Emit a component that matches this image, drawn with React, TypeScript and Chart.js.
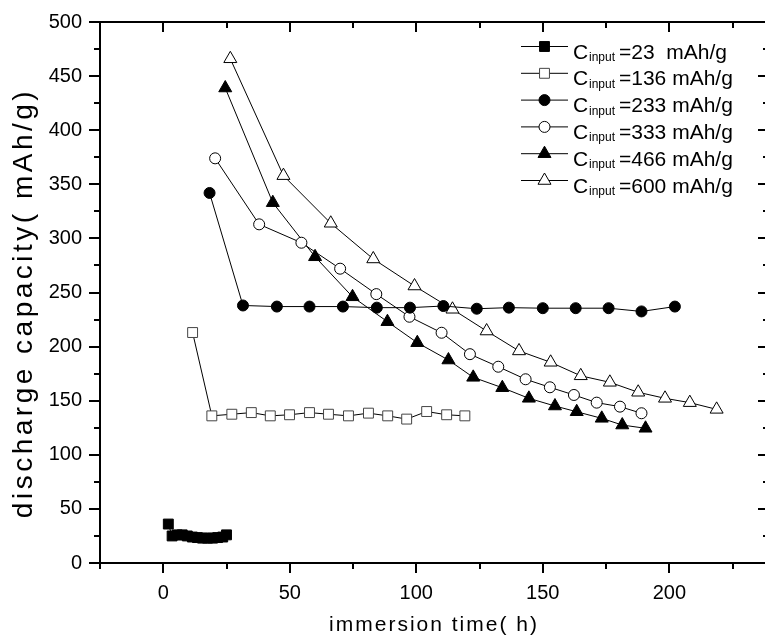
import React, { useEffect, useRef } from 'react';
import { Chart, registerables } from 'chart.js';

Chart.register(...registerables);

// ---- data ----
const s23X = [2, 3.5, 5.5, 7.5, 9.5, 11.5, 13.5, 15.5, 17.5, 19.5, 21.5, 23.5, 25];
const s23Y = [36, 25, 26, 26, 25, 24, 23.5, 23, 23, 23, 23.5, 24, 26];

const s136X = [11.6, 19.2, 27.1, 34.8, 42.3, 49.9, 57.8, 65.3, 73.2, 81.1, 88.7, 96.2, 104.1, 112, 119.2];
const s136Y = [213, 136, 137.5, 139, 136, 137, 139, 137.5, 136, 138.5, 136, 133, 140, 137, 136];

const s233X = [18.3, 31.5, 44.9, 57.8, 71, 84.4, 97.5, 110.7, 123.9, 136.6, 150, 163, 176, 189, 202.2];
const s233Y = [342, 238, 237, 237, 237, 236, 236, 237.5, 235, 236, 235.5, 235.5, 235.5, 232.5, 237];

const s333X = [20.5, 37.9, 54.6, 69.9, 84.2, 97.3, 110, 121.2, 132.4, 143.2, 152.8, 162.3, 171.3, 180.5, 189];
const s333Y = [374, 313, 296, 272, 248.5, 227.6, 212.8, 193, 181.4, 169.8, 162.4, 155.3, 148.2, 144.5, 138.4];

const s466X = [24.5, 43.3, 60, 74.8, 88.6, 100.4, 112.7, 122.5, 134, 144.5, 154.8, 163.4, 173.3, 181.4, 190.6];
const s466Y = [439, 333, 283, 246, 223, 203.6, 187.6, 171.6, 162, 152.2, 145.1, 139.8, 133.7, 127.5, 124.5];

const s600X = [26.5, 47.5, 66.2, 83, 99.3, 114.3, 127.8, 140.6, 153.1, 165, 176.5, 187.7, 198.3, 208.1, 218.7];
const s600Y = [466, 358, 314, 281, 256, 234.5, 214.4, 196, 185.5, 173, 167, 157.8, 152.2, 148.2, 142];

const seriesValues = ['23  mAh/g', '136 mAh/g', '233 mAh/g', '333 mAh/g', '466 mAh/g', '600 mAh/g'];

const xLabelTicks = [0, 50, 100, 150, 200];
const xTickMarks = [-25, 0, 25, 50, 75, 100, 125, 150, 175, 200, 225];
const yTickMarks = [0, 25, 50, 75, 100, 125, 150, 175, 200, 225, 250, 275, 300, 325, 350, 375, 400, 425, 450, 475, 500];

const X_MIN = -25;
const X_MAX = 239;
const Y_MIN = 0;
const Y_MAX = 500;

const xTitle = 'immersion time( h)';
const yTitle = 'discharge capacity( mAh/g)';

const FONT = '"Liberation Sans", Arial, Helvetica, sans-serif';

const zip = (xs: number[], ys: number[]) => xs.map((x, i) => ({ x, y: ys[i] }));

type Style = { pointStyle: string; fill: string; stroke: string; radius: number };
const styles: Style[] = [
  { pointStyle: 'rect', fill: '#000', stroke: '#000', radius: 7 },
  { pointStyle: 'rect', fill: '#fff', stroke: '#444', radius: 7 },
  { pointStyle: 'circle', fill: '#000', stroke: '#000', radius: 5.5 },
  { pointStyle: 'circle', fill: '#fff', stroke: '#000', radius: 5.5 },
  { pointStyle: 'triangle', fill: '#000', stroke: '#000', radius: 7.5 },
  { pointStyle: 'triangle', fill: '#fff', stroke: '#000', radius: 7.5 },
];

function drawMarker(ctx: CanvasRenderingContext2D, st: Style, x: number, y: number) {
  ctx.beginPath();
  if (st.pointStyle === 'rect') {
    const s = st.radius * Math.SQRT1_2;
    ctx.rect(x - s, y - s, 2 * s, 2 * s);
  } else if (st.pointStyle === 'circle') {
    ctx.arc(x, y, st.radius, 0, Math.PI * 2);
  } else {
    const r = st.radius;
    let a = 0;
    ctx.moveTo(x + Math.sin(a) * r, y - Math.cos(a) * r);
    a += (2 * Math.PI) / 3;
    ctx.lineTo(x + Math.sin(a) * r, y - Math.cos(a) * r);
    a += (2 * Math.PI) / 3;
    ctx.lineTo(x + Math.sin(a) * r, y - Math.cos(a) * r);
    ctx.closePath();
  }
  ctx.fillStyle = st.fill;
  ctx.fill();
  ctx.lineWidth = 1;
  ctx.strokeStyle = st.stroke;
  ctx.stroke();
}

const framePlugin = {
  id: 'frameTicks',
  afterDraw(chart: any) {
    const ctx: CanvasRenderingContext2D = chart.ctx;
    const xs = chart.scales.x;
    const ys = chart.scales.y;
    const ca = chart.chartArea;
    const fL = Math.round(ca.left);
    const fR = Math.round(ca.right);
    const fT = Math.round(ca.top);
    const fB = Math.round(ca.bottom);
    ctx.save();
    ctx.fillStyle = '#000';
    ctx.fillRect(fL - 1, fT - 1, fR - fL + 2, 2);
    ctx.fillRect(fL - 1, fB - 1, fR - fL + 2, 2);
    ctx.fillRect(fL - 1, fT - 1, 2, fB - fT + 2);
    ctx.fillRect(fR - 1, fT - 1, 2, fB - fT + 2);
    xTickMarks.forEach((v) => {
      const px = Math.round(xs.getPixelForValue(v));
      const len = v % 50 === 0 ? 10 : 6;
      ctx.fillRect(px - 1, fB, 2, len);
      ctx.fillRect(px - 1, fT, 2, len);
    });
    yTickMarks.forEach((v) => {
      const py = Math.round(ys.getPixelForValue(v));
      const major = v % 50 === 0;
      const l1 = major ? 11 : 6;
      const l2 = major ? 10 : 5;
      ctx.fillRect(fL - l1, py - 1, l1, 2);
      ctx.fillRect(fR - l2, py - 1, l2, 2);
    });

    // axis titles
    ctx.fillStyle = '#000';
    (ctx as any).letterSpacing = '2px';
    ctx.font = `21px ${FONT}`;
    ctx.textAlign = 'center';
    ctx.textBaseline = 'alphabetic';
    ctx.fillText(xTitle, (fL + fR) / 2, 631);
    ctx.save();
    (ctx as any).letterSpacing = '3.5px';
    ctx.font = `28px ${FONT}`;
    ctx.translate(32, 303);
    ctx.rotate(-Math.PI / 2);
    ctx.fillText(yTitle, 0, 0);
    ctx.restore();
    (ctx as any).letterSpacing = '0px';

    // legend
    const x0 = 521;
    const x1 = 568;
    const mx = 544.5;
    for (let i = 0; i < styles.length; i++) {
      const ly = 46.5 + i * 26.8;
      ctx.beginPath();
      ctx.lineWidth = 1;
      ctx.strokeStyle = '#000';
      ctx.moveTo(x0, ly);
      ctx.lineTo(x1, ly);
      ctx.stroke();
      drawMarker(ctx, styles[i], mx, ly);
      ctx.fillStyle = '#000';
      ctx.textAlign = 'left';
      ctx.font = `21px ${FONT}`;
      ctx.fillText('C', 573, ly + 12);
      ctx.font = `12px ${FONT}`;
      ctx.fillText('input', 589, ly + 14.5);
      ctx.font = `21px ${FONT}`;
      ctx.fillText('=' + seriesValues[i], 619, ly + 12);
    }
    ctx.restore();
  },
};

export default function App() {
  const ref = useRef<HTMLCanvasElement | null>(null);

  useEffect(() => {
    document.body.style.margin = '0';
    document.body.style.overflow = 'hidden';
    const canvas = ref.current;
    if (!canvas) return;
    const datasets = [
      [s23X, s23Y],
      [s136X, s136Y],
      [s233X, s233Y],
      [s333X, s333Y],
      [s466X, s466Y],
      [s600X, s600Y],
    ].map(([xs, ys], i) => ({
      label: 'C input =' + seriesValues[i],
      data: zip(xs, ys),
      showLine: true,
      borderColor: '#000',
      borderWidth: 1,
      pointStyle: styles[i].pointStyle,
      pointRadius: styles[i].radius,
      pointBackgroundColor: styles[i].fill,
      pointBorderColor: styles[i].stroke,
      pointBorderWidth: 1,
      tension: 0,
    }));

    const chart = new Chart(canvas, {
      type: 'scatter',
      data: { datasets },
      options: {
        animation: false,
        responsive: false,
        devicePixelRatio: 1,
        layout: { padding: { top: 22, right: 12, left: 0, bottom: 0 } },
        plugins: {
          legend: { display: false },
          tooltip: { enabled: false },
        },
        scales: {
          x: {
            type: 'linear',
            position: 'bottom',
            min: X_MIN,
            max: X_MAX,
            grid: { display: false, drawTicks: false },
            border: { display: false },
            afterBuildTicks: (s: any) => {
              s.ticks = xLabelTicks.map((v) => ({ value: v }));
            },
            afterFit: (s: any) => {
              s.height = 79;
              s.paddingLeft = 0;
              s.paddingRight = 0;
              s.paddingTop = 0;
              s.paddingBottom = 0;
            },
            ticks: {
              color: '#000',
              padding: 18,
              maxRotation: 0,
              autoSkip: false,
              font: { family: FONT, size: 20 },
            },
          },
          y: {
            type: 'linear',
            position: 'left',
            min: Y_MIN,
            max: Y_MAX,
            grid: { display: false, drawTicks: false },
            border: { display: false },
            afterFit: (s: any) => {
              s.width = 100;
              s.paddingLeft = 0;
              s.paddingRight = 0;
              s.paddingTop = 0;
              s.paddingBottom = 0;
            },
            ticks: {
              color: '#000',
              padding: 18,
              stepSize: 50,
              autoSkip: false,
              font: { family: FONT, size: 20 },
            },
          },
        },
      },
      plugins: [framePlugin],
    });
    return () => chart.destroy();
  }, []);

  return (
    <div style={{ width: 765, height: 642, overflow: 'hidden', position: 'relative', background: '#fff' }}>
      <canvas ref={ref} width={780} height={642} style={{ display: 'block', width: 780, height: 642 }} />
    </div>
  );
}
